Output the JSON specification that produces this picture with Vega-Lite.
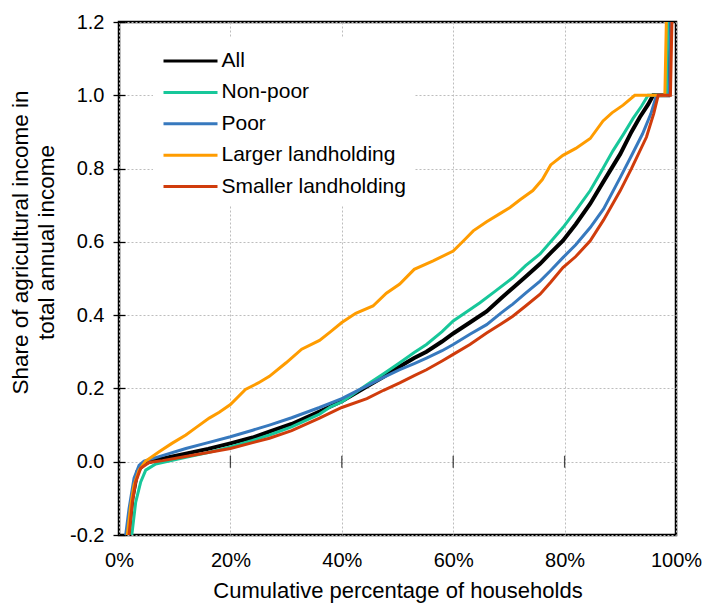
{
  "$schema": "https://vega.github.io/schema/vega-lite/v6.json",
  "autosize": "none",
  "width": 557,
  "height": 513,
  "padding": {"left": 119, "top": 22, "right": 30, "bottom": 68},
  "background": "white",
  "config": {
    "font": "Liberation Sans",
    "view": {"stroke": "black", "strokeWidth": 2.5},
    "axis": {"labelColor": "black", "titleColor": "black", "titleFontWeight": "normal", "labelFont": "Liberation Sans", "titleFont": "Liberation Sans"},
    "legend": {"labelFont": "Liberation Sans"}
  },
  "datasets": {
    "curves": [
      {"series": "All", "pct": 1.4, "share": -0.32}, {"series": "All", "pct": 1.7, "share": -0.2}, {"series": "All", "pct": 2.4, "share": -0.1}, {"series": "All", "pct": 3.3, "share": -0.027}, {"series": "All", "pct": 4.5, "share": -0.005}, {"series": "All", "pct": 6, "share": 0.002}, {"series": "All", "pct": 9, "share": 0.012}, {"series": "All", "pct": 12, "share": 0.022}, {"series": "All", "pct": 16, "share": 0.035}, {"series": "All", "pct": 20, "share": 0.05}, {"series": "All", "pct": 24, "share": 0.066}, {"series": "All", "pct": 27, "share": 0.082}, {"series": "All", "pct": 31, "share": 0.103}, {"series": "All", "pct": 36, "share": 0.137}, {"series": "All", "pct": 40, "share": 0.165}, {"series": "All", "pct": 44.5, "share": 0.205}, {"series": "All", "pct": 47.5, "share": 0.232}, {"series": "All", "pct": 50.4, "share": 0.26}, {"series": "All", "pct": 53, "share": 0.283}, {"series": "All", "pct": 55.2, "share": 0.3}, {"series": "All", "pct": 58, "share": 0.328}, {"series": "All", "pct": 60, "share": 0.35}, {"series": "All", "pct": 63, "share": 0.38}, {"series": "All", "pct": 66, "share": 0.41}, {"series": "All", "pct": 68.5, "share": 0.445}, {"series": "All", "pct": 70.7, "share": 0.474}, {"series": "All", "pct": 73, "share": 0.505}, {"series": "All", "pct": 75.6, "share": 0.54}, {"series": "All", "pct": 77.5, "share": 0.57}, {"series": "All", "pct": 79.7, "share": 0.603}, {"series": "All", "pct": 82, "share": 0.648}, {"series": "All", "pct": 84.6, "share": 0.704}, {"series": "All", "pct": 87, "share": 0.765}, {"series": "All", "pct": 90, "share": 0.84}, {"series": "All", "pct": 92, "share": 0.9}, {"series": "All", "pct": 93.5, "share": 0.94}, {"series": "All", "pct": 95, "share": 0.975}, {"series": "All", "pct": 95.9, "share": 1.0}, {"series": "All", "pct": 98.6, "share": 1.0}, {"series": "All", "pct": 99.0, "share": 1.3},

      {"series": "Non-poor", "pct": 2.1, "share": -0.32}, {"series": "Non-poor", "pct": 2.3, "share": -0.2}, {"series": "Non-poor", "pct": 3, "share": -0.11}, {"series": "Non-poor", "pct": 3.9, "share": -0.055}, {"series": "Non-poor", "pct": 4.8, "share": -0.023}, {"series": "Non-poor", "pct": 6.6, "share": -0.006}, {"series": "Non-poor", "pct": 9, "share": 0.002}, {"series": "Non-poor", "pct": 12, "share": 0.012}, {"series": "Non-poor", "pct": 16, "share": 0.025}, {"series": "Non-poor", "pct": 20, "share": 0.04}, {"series": "Non-poor", "pct": 24, "share": 0.058}, {"series": "Non-poor", "pct": 27, "share": 0.073}, {"series": "Non-poor", "pct": 31, "share": 0.095}, {"series": "Non-poor", "pct": 36, "share": 0.13}, {"series": "Non-poor", "pct": 38, "share": 0.15}, {"series": "Non-poor", "pct": 40, "share": 0.163}, {"series": "Non-poor", "pct": 44.5, "share": 0.21}, {"series": "Non-poor", "pct": 47.5, "share": 0.24}, {"series": "Non-poor", "pct": 50.4, "share": 0.27}, {"series": "Non-poor", "pct": 53, "share": 0.298}, {"series": "Non-poor", "pct": 55.2, "share": 0.32}, {"series": "Non-poor", "pct": 58, "share": 0.355}, {"series": "Non-poor", "pct": 60, "share": 0.384}, {"series": "Non-poor", "pct": 62.5, "share": 0.41}, {"series": "Non-poor", "pct": 64.8, "share": 0.434}, {"series": "Non-poor", "pct": 67.5, "share": 0.465}, {"series": "Non-poor", "pct": 70.7, "share": 0.502}, {"series": "Non-poor", "pct": 73, "share": 0.535}, {"series": "Non-poor", "pct": 75.6, "share": 0.567}, {"series": "Non-poor", "pct": 77.5, "share": 0.6}, {"series": "Non-poor", "pct": 79.7, "share": 0.639}, {"series": "Non-poor", "pct": 82, "share": 0.685}, {"series": "Non-poor", "pct": 84.6, "share": 0.74}, {"series": "Non-poor", "pct": 86.5, "share": 0.79}, {"series": "Non-poor", "pct": 88.7, "share": 0.849}, {"series": "Non-poor", "pct": 90.5, "share": 0.892}, {"series": "Non-poor", "pct": 92.3, "share": 0.937}, {"series": "Non-poor", "pct": 93.8, "share": 0.97}, {"series": "Non-poor", "pct": 95, "share": 1.0}, {"series": "Non-poor", "pct": 98.3, "share": 1.0}, {"series": "Non-poor", "pct": 98.7, "share": 1.3},

      {"series": "Poor", "pct": 1.0, "share": -0.32}, {"series": "Poor", "pct": 1.2, "share": -0.2}, {"series": "Poor", "pct": 1.8, "share": -0.128}, {"series": "Poor", "pct": 2.7, "share": -0.045}, {"series": "Poor", "pct": 3.6, "share": -0.01}, {"series": "Poor", "pct": 4.5, "share": 0.002}, {"series": "Poor", "pct": 7.2, "share": 0.014}, {"series": "Poor", "pct": 12, "share": 0.036}, {"series": "Poor", "pct": 16, "share": 0.052}, {"series": "Poor", "pct": 20, "share": 0.068}, {"series": "Poor", "pct": 24, "share": 0.086}, {"series": "Poor", "pct": 27, "share": 0.1}, {"series": "Poor", "pct": 31, "share": 0.12}, {"series": "Poor", "pct": 36, "share": 0.148}, {"series": "Poor", "pct": 40, "share": 0.172}, {"series": "Poor", "pct": 44.5, "share": 0.207}, {"series": "Poor", "pct": 47.5, "share": 0.23}, {"series": "Poor", "pct": 50.4, "share": 0.251}, {"series": "Poor", "pct": 53, "share": 0.268}, {"series": "Poor", "pct": 55.2, "share": 0.283}, {"series": "Poor", "pct": 58, "share": 0.303}, {"series": "Poor", "pct": 60, "share": 0.32}, {"series": "Poor", "pct": 63, "share": 0.348}, {"series": "Poor", "pct": 66, "share": 0.374}, {"series": "Poor", "pct": 68.5, "share": 0.405}, {"series": "Poor", "pct": 70.7, "share": 0.43}, {"series": "Poor", "pct": 73, "share": 0.46}, {"series": "Poor", "pct": 75.6, "share": 0.493}, {"series": "Poor", "pct": 77.5, "share": 0.522}, {"series": "Poor", "pct": 79.7, "share": 0.557}, {"series": "Poor", "pct": 82, "share": 0.592}, {"series": "Poor", "pct": 84.6, "share": 0.639}, {"series": "Poor", "pct": 87, "share": 0.69}, {"series": "Poor", "pct": 90, "share": 0.776}, {"series": "Poor", "pct": 92, "share": 0.835}, {"series": "Poor", "pct": 94, "share": 0.895}, {"series": "Poor", "pct": 95.5, "share": 0.95}, {"series": "Poor", "pct": 96.5, "share": 1.0}, {"series": "Poor", "pct": 98.8, "share": 1.0}, {"series": "Poor", "pct": 99.2, "share": 1.3},

      {"series": "Larger landholding", "pct": 1.3, "share": -0.32}, {"series": "Larger landholding", "pct": 1.5, "share": -0.2}, {"series": "Larger landholding", "pct": 2.1, "share": -0.12}, {"series": "Larger landholding", "pct": 2.7, "share": -0.064}, {"series": "Larger landholding", "pct": 3.6, "share": -0.023}, {"series": "Larger landholding", "pct": 4.8, "share": 0.002}, {"series": "Larger landholding", "pct": 7.2, "share": 0.027}, {"series": "Larger landholding", "pct": 9.5, "share": 0.05}, {"series": "Larger landholding", "pct": 12, "share": 0.073}, {"series": "Larger landholding", "pct": 14, "share": 0.095}, {"series": "Larger landholding", "pct": 16.2, "share": 0.119}, {"series": "Larger landholding", "pct": 18, "share": 0.135}, {"series": "Larger landholding", "pct": 20, "share": 0.156}, {"series": "Larger landholding", "pct": 22.7, "share": 0.197}, {"series": "Larger landholding", "pct": 25, "share": 0.215}, {"series": "Larger landholding", "pct": 27, "share": 0.233}, {"series": "Larger landholding", "pct": 30, "share": 0.27}, {"series": "Larger landholding", "pct": 32.8, "share": 0.307}, {"series": "Larger landholding", "pct": 36, "share": 0.331}, {"series": "Larger landholding", "pct": 38, "share": 0.355}, {"series": "Larger landholding", "pct": 40, "share": 0.38}, {"series": "Larger landholding", "pct": 42.5, "share": 0.405}, {"series": "Larger landholding", "pct": 45.6, "share": 0.425}, {"series": "Larger landholding", "pct": 48, "share": 0.46}, {"series": "Larger landholding", "pct": 50.4, "share": 0.485}, {"series": "Larger landholding", "pct": 53, "share": 0.525}, {"series": "Larger landholding", "pct": 56.4, "share": 0.548}, {"series": "Larger landholding", "pct": 60, "share": 0.575}, {"series": "Larger landholding", "pct": 62, "share": 0.605}, {"series": "Larger landholding", "pct": 63.6, "share": 0.63}, {"series": "Larger landholding", "pct": 66, "share": 0.655}, {"series": "Larger landholding", "pct": 68.4, "share": 0.677}, {"series": "Larger landholding", "pct": 70.2, "share": 0.694}, {"series": "Larger landholding", "pct": 72, "share": 0.715}, {"series": "Larger landholding", "pct": 74.3, "share": 0.74}, {"series": "Larger landholding", "pct": 76, "share": 0.77}, {"series": "Larger landholding", "pct": 77.5, "share": 0.81}, {"series": "Larger landholding", "pct": 79.7, "share": 0.836}, {"series": "Larger landholding", "pct": 82, "share": 0.855}, {"series": "Larger landholding", "pct": 84.6, "share": 0.882}, {"series": "Larger landholding", "pct": 86.9, "share": 0.93}, {"series": "Larger landholding", "pct": 88.5, "share": 0.952}, {"series": "Larger landholding", "pct": 90.5, "share": 0.973}, {"series": "Larger landholding", "pct": 92.6, "share": 1.0}, {"series": "Larger landholding", "pct": 98.0, "share": 1.0}, {"series": "Larger landholding", "pct": 98.4, "share": 1.3},

      {"series": "Smaller landholding", "pct": 1.6, "share": -0.32}, {"series": "Smaller landholding", "pct": 1.8, "share": -0.2}, {"series": "Smaller landholding", "pct": 2.4, "share": -0.11}, {"series": "Smaller landholding", "pct": 3, "share": -0.055}, {"series": "Smaller landholding", "pct": 3.9, "share": -0.018}, {"series": "Smaller landholding", "pct": 5.4, "share": -0.002}, {"series": "Smaller landholding", "pct": 7.8, "share": 0.003}, {"series": "Smaller landholding", "pct": 12, "share": 0.014}, {"series": "Smaller landholding", "pct": 16, "share": 0.025}, {"series": "Smaller landholding", "pct": 20, "share": 0.036}, {"series": "Smaller landholding", "pct": 24, "share": 0.052}, {"series": "Smaller landholding", "pct": 27, "share": 0.064}, {"series": "Smaller landholding", "pct": 31, "share": 0.085}, {"series": "Smaller landholding", "pct": 36, "share": 0.119}, {"series": "Smaller landholding", "pct": 40, "share": 0.148}, {"series": "Smaller landholding", "pct": 44.5, "share": 0.172}, {"series": "Smaller landholding", "pct": 47.5, "share": 0.195}, {"series": "Smaller landholding", "pct": 50.4, "share": 0.215}, {"series": "Smaller landholding", "pct": 53, "share": 0.235}, {"series": "Smaller landholding", "pct": 55.2, "share": 0.251}, {"series": "Smaller landholding", "pct": 58, "share": 0.275}, {"series": "Smaller landholding", "pct": 60, "share": 0.293}, {"series": "Smaller landholding", "pct": 63, "share": 0.32}, {"series": "Smaller landholding", "pct": 66, "share": 0.351}, {"series": "Smaller landholding", "pct": 68.5, "share": 0.375}, {"series": "Smaller landholding", "pct": 70.7, "share": 0.397}, {"series": "Smaller landholding", "pct": 73, "share": 0.425}, {"series": "Smaller landholding", "pct": 75.6, "share": 0.457}, {"series": "Smaller landholding", "pct": 77.5, "share": 0.49}, {"series": "Smaller landholding", "pct": 79.7, "share": 0.53}, {"series": "Smaller landholding", "pct": 82, "share": 0.56}, {"series": "Smaller landholding", "pct": 84.6, "share": 0.603}, {"series": "Smaller landholding", "pct": 87, "share": 0.66}, {"series": "Smaller landholding", "pct": 90, "share": 0.74}, {"series": "Smaller landholding", "pct": 92, "share": 0.8}, {"series": "Smaller landholding", "pct": 94.7, "share": 0.886}, {"series": "Smaller landholding", "pct": 96, "share": 0.95}, {"series": "Smaller landholding", "pct": 96.8, "share": 1.0}, {"series": "Smaller landholding", "pct": 99.0, "share": 1.0}, {"series": "Smaller landholding", "pct": 99.4, "share": 1.3}
    ],
    "xticks": [{"pct": 20}, {"pct": 40}, {"pct": 60}, {"pct": 80}]
  },
  "layer": [
    {
      "mark": {"type": "rule", "color": "black", "strokeWidth": 1.3},
      "encoding": {"y": {"datum": 0, "type": "quantitative", "scale": {"domain": [-0.2, 1.2], "nice": false}}}
    },
    {
      "data": {"name": "xticks"},
      "mark": {"type": "tick", "orient": "vertical", "color": "black", "size": 12, "thickness": 1.3},
      "encoding": {
        "x": {"field": "pct", "type": "quantitative"},
        "y": {"datum": 0, "type": "quantitative"}
      }
    },
    {
      "data": {"name": "curves"},
      "transform": [{"filter": "datum.series === 'All'"}],
      "mark": {"type": "line", "strokeWidth": 4, "clip": true},
      "encoding": {
        "x": {"field": "pct", "type": "quantitative"},
        "y": {"field": "share", "type": "quantitative"},
        "color": {"field": "series", "type": "nominal"}
      }
    },
    {
      "data": {"name": "curves"},
      "transform": [{"filter": "datum.series !== 'All'"}],
      "mark": {"type": "line", "strokeWidth": 3, "clip": true},
      "encoding": {
        "x": {
          "field": "pct", "type": "quantitative",
          "scale": {"domain": [0, 100], "nice": false},
          "axis": {
            "values": [0, 20, 40, 60, 80, 100],
            "labelExpr": "datum.value + '%'",
            "labelFlush": false,
            "grid": true, "gridColor": "#BDBDBD", "gridDash": [2, 2], "gridWidth": 1,
            "ticks": false, "domain": false,
            "labelFontSize": 20, "labelPadding": 15,
            "title": "Cumulative percentage of households",
            "titleFontSize": 22, "titlePadding": 10
          }
        },
        "y": {
          "field": "share", "type": "quantitative",
          "scale": {"domain": [-0.2, 1.2], "nice": false},
          "axis": {
            "values": [-0.2, 0, 0.2, 0.4, 0.6, 0.8, 1.0, 1.2],
            "labelExpr": "replace(format(datum.value, '.1f'), '\u2212', '-')",
            "grid": true, "gridColor": "#BDBDBD", "gridDash": [2, 2], "gridWidth": 1,
            "domain": false, "offset": -6, "tickSize": 12, "tickColor": "black", "tickWidth": 1.3,
            "labelFontSize": 20, "labelPadding": 9,
            "title": ["Share of agricultural income in", "total annual income"],
            "titleFontSize": 22.5, "titleLineHeight": 26,
            "titleBaseline": "alphabetic", "titleAlign": "center", "titleAngle": -90,
            "titleX": -98, "titleY": 220
          }
        },
        "color": {
          "field": "series", "type": "nominal",
          "scale": {
            "domain": ["All", "Non-poor", "Poor", "Larger landholding", "Smaller landholding"],
            "range": ["#000000", "#17C79A", "#3779BE", "#FF9C00", "#D03C0C"]
          },
          "legend": {
            "title": null, "orient": "none", "legendX": 34, "legendY": 15,
            "fillColor": "white", "padding": 9,
            "labelFontSize": 21, "labelColor": "black", "labelLimit": 400,
            "symbolType": "M-2,0H2", "symbolSize": 729, "symbolStrokeWidth": 3,
            "symbolOffset": 13.5, "labelOffset": 16, "rowPadding": 6.4
          }
        }
      }
    }
  ]
}
